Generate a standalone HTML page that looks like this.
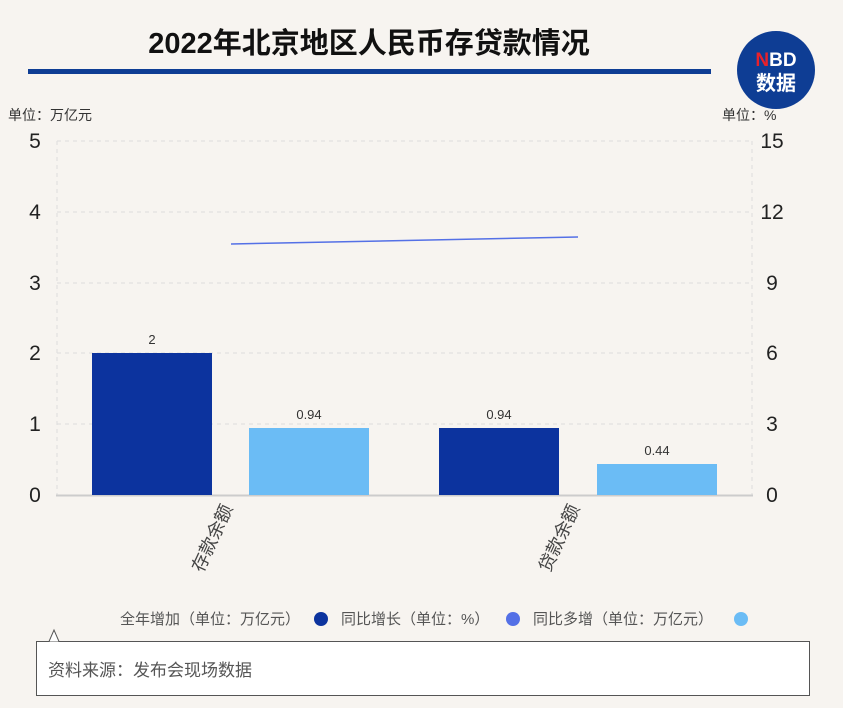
<!DOCTYPE html>
<html><head><meta charset="utf-8"><style>
body{margin:0;background:#f7f4f0;}
svg{display:block;font-family:"Liberation Sans","Noto Sans CJK SC",sans-serif;}
</style></head><body>
<svg width="843" height="708" viewBox="0 0 843 708">
<rect width="843" height="708" fill="#f7f4f0"/>
<text x="369" y="53" font-size="29" font-weight="bold" text-anchor="middle" fill="#111">2022年北京地区人民币存贷款情况</text>
<rect x="28" y="69" width="683" height="5" fill="#0e3d94"/>
<ellipse cx="776" cy="70" rx="39" ry="39" fill="#0e3d94"/>
<text x="776" y="66" font-size="19" font-weight="bold" text-anchor="middle" fill="#fff"><tspan fill="#e8212b">N</tspan>BD</text>
<text x="776" y="90" font-size="20" font-weight="bold" text-anchor="middle" fill="#fff">数据</text>
<text x="8" y="120" font-size="14" fill="#333">单位：万亿元</text>
<text x="722" y="120" font-size="14" fill="#333">单位：%</text>
<g stroke="#ddd" stroke-dasharray="4,4" stroke-width="1">
<line x1="57" x2="752" y1="141" y2="141"/><line x1="57" x2="752" y1="212" y2="212"/>
<line x1="57" x2="752" y1="283" y2="283"/><line x1="57" x2="752" y1="353" y2="353"/>
<line x1="57" x2="752" y1="424" y2="424"/>
<line x1="57" x2="57" y1="141" y2="495"/><line x1="752" x2="752" y1="141" y2="495"/>
</g>
<line x1="56" x2="753" y1="495.5" y2="495.5" stroke="#ccc" stroke-width="2"/>
<g font-size="21" fill="#222" text-anchor="middle">
<text x="35" y="148">5</text><text x="35" y="219">4</text><text x="35" y="290">3</text>
<text x="35" y="360">2</text><text x="35" y="431">1</text><text x="35" y="502">0</text>
<text x="772" y="148">15</text><text x="772" y="219">12</text><text x="772" y="290">9</text>
<text x="772" y="360">6</text><text x="772" y="431">3</text><text x="772" y="502">0</text>
</g>
<rect x="92" y="353" width="120" height="142" fill="#0c339e"/>
<rect x="249" y="428" width="120" height="67" fill="#6bbcf5"/>
<rect x="439" y="428" width="120" height="67" fill="#0c339e"/>
<rect x="597" y="464" width="120" height="31" fill="#6bbcf5"/>
<g font-size="13" fill="#333" text-anchor="middle">
<text x="152" y="344">2</text><text x="309" y="419">0.94</text>
<text x="499" y="419">0.94</text><text x="657" y="455">0.44</text>
</g>
<line x1="231" y1="244" x2="578" y2="237" stroke="#5470e6" stroke-width="1.5"/>
<g font-size="18" fill="#444">
<text transform="translate(233,508) rotate(-65)" text-anchor="end">存款余额</text>
<text transform="translate(580,508) rotate(-65)" text-anchor="end">贷款余额</text>
</g>
<g font-size="15" fill="#555">
<text x="120" y="624">全年增加（单位：万亿元）</text>
<circle cx="321" cy="619" r="7" fill="#0c339e"/>
<text x="341" y="624">同比增长（单位：%）</text>
<circle cx="513" cy="619" r="7" fill="#5470e6"/>
<text x="533" y="624">同比多增（单位：万亿元）</text>
<circle cx="741" cy="619" r="7" fill="#6bbcf5"/>
</g>
<rect x="36.5" y="641.5" width="773" height="54" fill="#fff" stroke="#555"/>
<path d="M49 641.5 L54 630 L59 641.5" fill="#fff" stroke="#555"/>
<text x="48" y="676" font-size="17" fill="#555">资料来源：发布会现场数据</text>
</svg>
</body></html>
